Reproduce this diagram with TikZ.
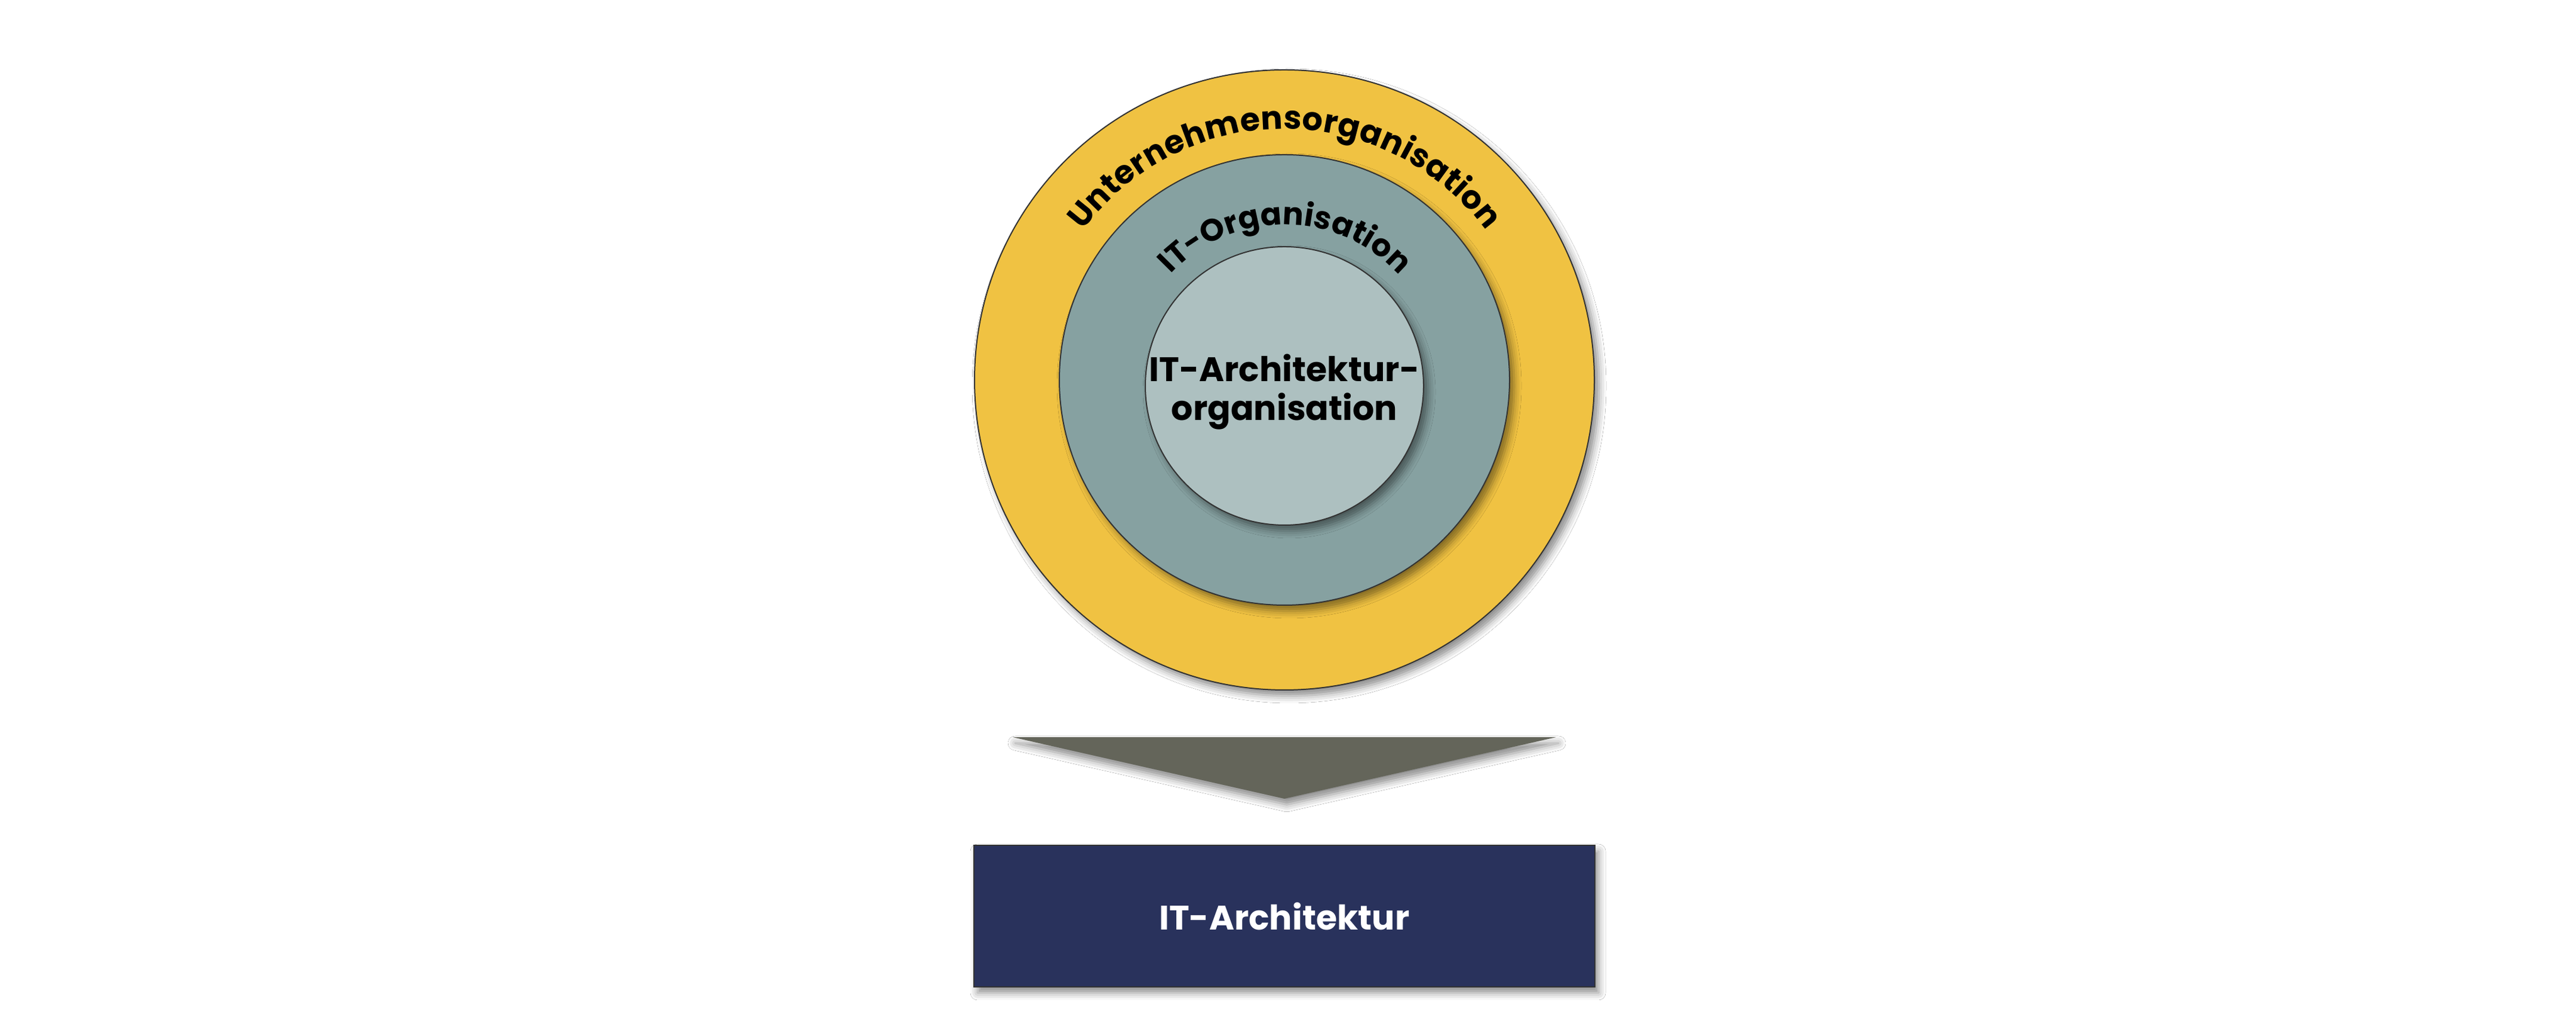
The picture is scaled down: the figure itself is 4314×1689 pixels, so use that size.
\documentclass[tikz,border=0pt]{standalone}
\usepackage{fontspec}
\setmainfont{Poppins}
\usetikzlibrary{shadows.blur,decorations.text}
\definecolor{yel}{HTML}{F0C242}
\definecolor{tealm}{HTML}{86A1A1}
\definecolor{teall}{HTML}{ADC0C0}
\definecolor{arrowc}{HTML}{64655A}
\definecolor{navy}{HTML}{29325C}
\definecolor{bord}{HTML}{333333}
\begin{document}
\begin{tikzpicture}[x=0.25pt,y=0.25pt,
  ring/.style={circle, draw=bord, line width=0.5pt, inner sep=0pt,
    blur shadow={shadow xshift=2pt, shadow yshift=-2.5pt, shadow blur radius=3pt, shadow opacity=45}},
  lbl/.style={font=\bfseries\fontsize{14.25pt}{16.25pt}\selectfont, inner sep=0pt},
]
\fill[white] (0,0) rectangle (4314,1689);
\useasboundingbox (0,0) rectangle (4314,1689);
\node[ring, fill=yel, minimum size=259.5pt] (uorg) at (2151,1053) {};
\node[ring, fill=tealm, minimum size=188.5pt] (itorg) at (2151,1053) {};
\node[ring, fill=teall, minimum size=116.5pt] (archorg) at (2151,1043) {};
\node[lbl, anchor=base] (t1) at (2151,1050) {IT-Architektur-};
\node[lbl, anchor=base] (t2) at (2151,985) {organisation};
\path[decorate, decoration={text along path, text align=fit to path,
  text={|\bfseries\fontsize{13.5pt}{16pt}\selectfont|Unternehmensorganisation}}]
  (uorg.center) ++(143.5:420) arc[start angle=143.5, end angle=36.5, radius=420];
\path[decorate, decoration={text along path, text align=fit to path,
  text={|\bfseries\fontsize{13pt}{16pt}\selectfont|IT-Organisation}}]
  (itorg.center) ++(137:260) arc[start angle=137, end angle=43, radius=260];
\coordinate (tl) at (1696,455);
\coordinate (tr) at (2606,455);
\coordinate (tip) at (2151,352);
\fill[arrowc, blur shadow={shadow xshift=1pt, shadow yshift=-2.5pt, shadow blur radius=3pt, shadow opacity=45}] (tl) -- (tr) -- (tip) -- cycle;
\node[fill=navy, draw=bord, line width=0.7pt, minimum width=260pt, minimum height=59.25pt,
  text=white, lbl, blur shadow={shadow xshift=1.5pt, shadow yshift=-2.5pt, shadow blur radius=3pt, shadow opacity=45}]
  (arch) at (2151,155.5) {IT-Architektur};
\end{tikzpicture}
\end{document}
